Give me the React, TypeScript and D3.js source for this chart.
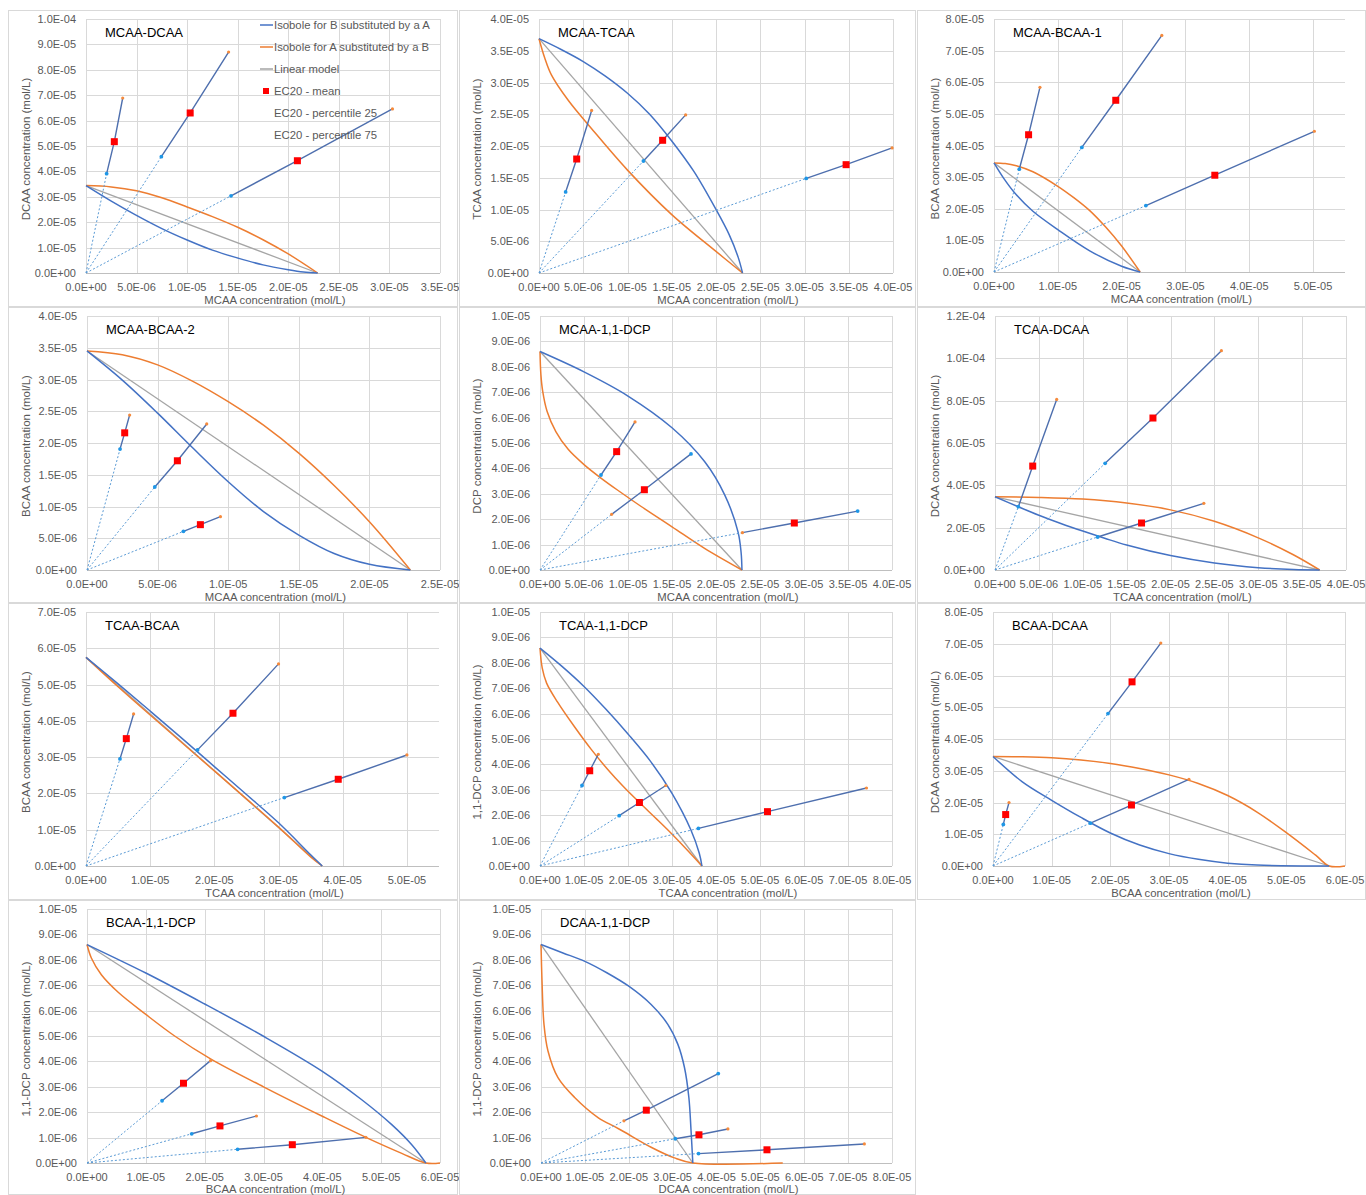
import React from "react";
import * as d3 from "d3";

type Pt = [number, number];

// ---------- panel meta ----------
const panelTitles = ["MCAA-DCAA", "MCAA-TCAA", "MCAA-BCAA-1", "MCAA-BCAA-2", "MCAA-1,1-DCP", "TCAA-DCAA", "TCAA-BCAA", "TCAA-1,1-DCP", "BCAA-DCAA", "BCAA-1,1-DCP", "DCAA-1,1-DCP"];
const xAxisTitles = ["MCAA concentration (mol/L)", "MCAA concentration (mol/L)", "MCAA concentration (mol/L)", "MCAA concentration (mol/L)", "MCAA concentration (mol/L)", "TCAA concentration (mol/L)", "TCAA concentration (mol/L)", "TCAA concentration (mol/L)", "BCAA concentration (mol/L)", "BCAA concentration (mol/L)", "DCAA concentration (mol/L)"];
const yAxisTitles = ["DCAA concentration (mol/L)", "TCAA concentration (mol/L)", "BCAA concentration (mol/L)", "BCAA concentration (mol/L)", "DCP concentration (mol/L)", "DCAA concentration (mol/L)", "BCAA concentration (mol/L)", "1,1-DCP concentration (mol/L)", "DCAA concentration (mol/L)", "1,1-DCP concentration (mol/L)", "1,1-DCP concentration (mol/L)"];
const xMaxes = [3.5e-5, 4e-5, 5.5e-5, 2.5e-5, 4e-5, 4e-5, 5.5e-5, 8e-5, 6e-5, 6e-5, 8e-5];
const xSteps = [5e-6, 5e-6, 1e-5, 5e-6, 5e-6, 5e-6, 1e-5, 1e-5, 1e-5, 1e-5, 1e-5];
const yMaxes = [1e-4, 4e-5, 8e-5, 4e-5, 1e-5, 1.2e-4, 7e-5, 1e-5, 8e-5, 1e-5, 1e-5];
const ySteps = [1e-5, 5e-6, 1e-5, 5e-6, 1e-6, 2e-5, 1e-5, 1e-6, 1e-5, 1e-6, 1e-6];

const legendLabels = ["Isobole for B substituted by a A", "Isobole for A substituted by a B", "Linear model", "EC20 - mean", "EC20 - percentile 25", "EC20 - percentile 75"];

// ---------- Panel 1: MCAA-DCAA ----------
const p1Blue: Pt[] = [[0, 3.44e-5], [2.5e-6, 2.83e-5], [4.85e-6, 2.3e-5], [7.5e-6, 1.75e-5], [1.0e-5, 1.3e-5], [1.25e-5, 0.9e-5], [1.5e-5, 0.59e-5], [1.75e-5, 0.32e-5], [2.0e-5, 0.13e-5], [2.15e-5, 0.04e-5], [2.29e-5, 0]];
const p1Orange: Pt[] = [[0, 3.44e-5], [2.5e-6, 3.39e-5], [5e-6, 3.24e-5], [7.5e-6, 2.96e-5], [1.0e-5, 2.6e-5], [1.25e-5, 2.22e-5], [1.5e-5, 1.8e-5], [1.75e-5, 1.31e-5], [2.0e-5, 0.75e-5], [2.29e-5, 0]];
const p1Linear: Pt[] = [[0, 3.44e-5], [2.29e-5, 0]];
const p1P25: Pt[] = [[2.04e-6, 3.91e-5], [7.45e-6, 4.58e-5], [1.434e-5, 3.04e-5]];
const p1Mean: Pt[] = [[2.8e-6, 5.17e-5], [1.03e-5, 6.3e-5], [2.09e-5, 4.42e-5]];
const p1P75: Pt[] = [[3.63e-6, 6.89e-5], [1.41e-5, 8.7e-5], [3.03e-5, 6.46e-5]];

// ---------- Panel 2: MCAA-TCAA ----------
const p2Blue: Pt[] = [[0, 3.69e-5], [2.5e-6, 3.52e-5], [5e-6, 3.33e-5], [7.5e-6, 3.1e-5], [1.0e-5, 2.83e-5], [1.25e-5, 2.5e-5], [1.5e-5, 2.08e-5], [1.75e-5, 1.6e-5], [2.0e-5, 1.0e-5], [2.15e-5, 0.6e-5], [2.25e-5, 0.25e-5], [2.3e-5, 0]];
const p2Orange: Pt[] = [[0, 3.69e-5], [6.4e-7, 3.39e-5], [1.4e-6, 3.12e-5], [3.3e-6, 2.72e-5], [5.9e-6, 2.28e-5], [1.0e-5, 1.62e-5], [1.5e-5, 0.92e-5], [2.0e-5, 0.34e-5], [2.3e-5, 0]];
const p2Linear: Pt[] = [[0, 3.69e-5], [2.3e-5, 0]];
const p2P25: Pt[] = [[3.01e-6, 1.276e-5], [1.18e-5, 1.764e-5], [3.02e-5, 1.49e-5]];
const p2Mean: Pt[] = [[4.26e-6, 1.795e-5], [1.397e-5, 2.09e-5], [3.47e-5, 1.706e-5]];
const p2P75: Pt[] = [[5.95e-6, 2.56e-5], [1.657e-5, 2.49e-5], [3.99e-5, 1.97e-5]];

// ---------- Panel 3: MCAA-BCAA-1 ----------
const p3Blue: Pt[] = [[0, 3.45e-5], [1.5e-6, 2.97e-5], [3.5e-6, 2.44e-5], [6.1e-6, 1.92e-5], [1.0e-5, 1.34e-5], [1.5e-5, 0.67e-5], [2.0e-5, 0.18e-5], [2.29e-5, 0]];
const p3Orange: Pt[] = [[0, 3.45e-5], [1.75e-6, 3.43e-5], [3.5e-6, 3.36e-5], [6.1e-6, 3.17e-5], [1.0e-5, 2.71e-5], [1.25e-5, 2.35e-5], [1.5e-5, 1.94e-5], [1.75e-5, 1.42e-5], [2.0e-5, 0.82e-5], [2.29e-5, 0]];
const p3Linear: Pt[] = [[0, 3.45e-5], [2.29e-5, 0]];
const p3P25: Pt[] = [[3.96e-6, 3.25e-5], [1.376e-5, 3.94e-5], [2.38e-5, 2.1e-5]];
const p3Mean: Pt[] = [[5.42e-6, 4.34e-5], [1.908e-5, 5.43e-5], [3.46e-5, 3.06e-5]];
const p3P75: Pt[] = [[7.2e-6, 5.84e-5], [2.63e-5, 7.48e-5], [5.02e-5, 4.45e-5]];

// ---------- Panel 4: MCAA-BCAA-2 ----------
const p4Blue: Pt[] = [[0, 3.45e-5], [2.5e-6, 2.99e-5], [5e-6, 2.47e-5], [7.5e-6, 1.92e-5], [1.0e-5, 1.39e-5], [1.25e-5, 0.92e-5], [1.5e-5, 0.55e-5], [1.75e-5, 0.26e-5], [2.0e-5, 0.09e-5], [2.29e-5, 0]];
const p4Orange: Pt[] = [[0, 3.45e-5], [2.5e-6, 3.39e-5], [5e-6, 3.23e-5], [7.5e-6, 2.97e-5], [1.0e-5, 2.65e-5], [1.25e-5, 2.28e-5], [1.5e-5, 1.84e-5], [1.75e-5, 1.33e-5], [2.0e-5, 0.76e-5], [2.29e-5, 0]];
const p4Linear: Pt[] = [[0, 3.45e-5], [2.29e-5, 0]];
const p4P25: Pt[] = [[2.34e-6, 1.905e-5], [4.8e-6, 1.307e-5], [6.83e-6, 6.09e-6]];
const p4Mean: Pt[] = [[2.67e-6, 2.16e-5], [6.4e-6, 1.72e-5], [8.03e-6, 7.14e-6]];
const p4P75: Pt[] = [[3.02e-6, 2.44e-5], [8.48e-6, 2.3e-5], [9.45e-6, 8.4e-6]];

// ---------- Panel 5: MCAA-1,1-DCP ----------
const p5Blue: Pt[] = [[0, 8.6e-6], [5e-6, 7.8e-6], [1.0e-5, 6.85e-6], [1.5e-5, 5.6e-6], [1.87e-5, 4.27e-6], [2.1e-5, 2.95e-6], [2.25e-5, 1.5e-6], [2.285e-5, 0.7e-6], [2.295e-5, 0]];
const p5Orange: Pt[] = [[0, 8.6e-6], [1e-7, 7.7e-6], [3e-7, 7.05e-6], [8e-7, 6.25e-6], [1.8e-6, 5.45e-6], [3.2e-6, 4.75e-6], [5e-6, 4.15e-6], [7e-6, 3.6e-6], [9e-6, 3.1e-6], [1.15e-5, 2.5e-6], [1.5e-5, 1.7e-6], [1.87e-5, 0.85e-6], [2.295e-5, 0]];
const p5Linear: Pt[] = [[0, 8.6e-6], [2.295e-5, 0]];
const p5P25: Pt[] = [[6.93e-6, 3.74e-6], [1.716e-5, 4.57e-6], [3.61e-5, 2.32e-6]];
const p5Mean: Pt[] = [[8.71e-6, 4.66e-6], [1.186e-5, 3.16e-6], [2.89e-5, 1.85e-6]];
const p5P75: Pt[] = [[1.08e-5, 5.83e-6], [8.14e-6, 2.19e-6], [2.3e-5, 1.47e-6]];

// ---------- Panel 6: TCAA-DCAA ----------
const p6Blue: Pt[] = [[0, 3.46e-5], [2.66e-6, 2.99e-5], [5e-6, 2.59e-5], [7.5e-6, 2.2e-5], [1.0e-5, 1.84e-5], [1.25e-5, 1.5e-5], [1.5e-5, 1.18e-5], [2.0e-5, 0.68e-5], [2.5e-5, 0.33e-5], [3.0e-5, 0.11e-5], [3.4e-5, 0.02e-5], [3.7e-5, 0]];
const p6Orange: Pt[] = [[0, 3.46e-5], [5e-6, 3.43e-5], [1.0e-5, 3.35e-5], [1.5e-5, 3.16e-5], [2.0e-5, 2.84e-5], [2.5e-5, 2.3e-5], [3.0e-5, 1.52e-5], [3.4e-5, 0.72e-5], [3.7e-5, 0]];
const p6Linear: Pt[] = [[0, 3.46e-5], [3.7e-5, 0]];
const p6P25: Pt[] = [[2.66e-6, 2.99e-5], [1.255e-5, 5.04e-5], [1.17e-5, 1.56e-5]];
const p6Mean: Pt[] = [[4.3e-6, 4.91e-5], [1.8e-5, 7.18e-5], [1.67e-5, 2.22e-5]];
const p6P75: Pt[] = [[7.03e-6, 8.06e-5], [2.58e-5, 1.036e-4], [2.38e-5, 3.15e-5]];

// ---------- Panel 7: TCAA-BCAA ----------
const p7Blue: Pt[] = [[0, 5.75e-5], [5e-6, 5.02e-5], [1.0e-5, 4.27e-5], [1.5e-5, 3.51e-5], [2.0e-5, 2.74e-5], [2.5e-5, 1.97e-5], [3.0e-5, 1.19e-5], [3.5e-5, 0.31e-5], [3.68e-5, 0]];
const p7Orange: Pt[] = [[0, 5.75e-5], [5e-6, 4.94e-5], [1.0e-5, 4.16e-5], [1.5e-5, 3.39e-5], [2.0e-5, 2.62e-5], [2.5e-5, 1.85e-5], [3.0e-5, 1.07e-5], [3.5e-5, 0.25e-5], [3.68e-5, 0]];
const p7Linear: Pt[] = [[0, 5.75e-5], [3.68e-5, 0]];
const p7P25: Pt[] = [[5.29e-6, 2.95e-5], [1.738e-5, 3.2e-5], [3.09e-5, 1.886e-5]];
const p7Mean: Pt[] = [[6.28e-6, 3.51e-5], [2.29e-5, 4.21e-5], [3.93e-5, 2.39e-5]];
const p7P75: Pt[] = [[7.42e-6, 4.19e-5], [3.0e-5, 5.57e-5], [5.0e-5, 3.06e-5]];

// ---------- Panel 8: TCAA-1,1-DCP ----------
const p8Blue: Pt[] = [[0, 8.58e-6], [5e-6, 7.86e-6], [1.0e-5, 7.07e-6], [1.5e-5, 6.17e-6], [2.0e-5, 5.2e-6], [2.5e-5, 4.15e-6], [3.0e-5, 2.86e-6], [3.43e-5, 1.42e-6], [3.62e-5, 0.5e-6], [3.68e-5, 0]];
const p8Orange: Pt[] = [[0, 8.58e-6], [5e-7, 7.8e-6], [1.5e-6, 7.2e-6], [4e-6, 6.45e-6], [7.8e-6, 5.49e-6], [1.16e-5, 4.6e-6], [1.54e-5, 3.8e-6], [1.9e-5, 3.12e-6], [2.26e-5, 2.5e-6], [2.62e-5, 1.9e-6], [2.98e-5, 1.29e-6], [3.34e-5, 0.64e-6], [3.68e-5, 0]];
const p8Linear: Pt[] = [[0, 8.58e-6], [3.68e-5, 0]];
const p8P25: Pt[] = [[9.55e-6, 3.17e-6], [1.8e-5, 1.98e-6], [3.6e-5, 1.48e-6]];
const p8Mean: Pt[] = [[1.13e-5, 3.75e-6], [2.26e-5, 2.5e-6], [5.17e-5, 2.14e-6]];
const p8P75: Pt[] = [[1.326e-5, 4.4e-6], [2.86e-5, 3.17e-6], [7.42e-5, 3.07e-6]];

// ---------- Panel 9: BCAA-DCAA ----------
const p9Blue: Pt[] = [[0, 3.45e-5], [5e-6, 2.65e-5], [1.0e-5, 2.07e-5], [1.5e-5, 1.53e-5], [2.0e-5, 1.04e-5], [2.5e-5, 0.66e-5], [3.0e-5, 0.39e-5], [3.5e-5, 0.21e-5], [4.0e-5, 0.09e-5], [4.5e-5, 0.03e-5], [5.73e-5, 0]];
const p9Orange: Pt[] = [[0, 3.45e-5], [5e-6, 3.44e-5], [1.0e-5, 3.41e-5], [1.5e-5, 3.34e-5], [2.0e-5, 3.23e-5], [2.5e-5, 3.07e-5], [3.0e-5, 2.87e-5], [3.5e-5, 2.6e-5], [4.0e-5, 2.22e-5], [4.5e-5, 1.7e-5], [5.0e-5, 1.05e-5], [5.5e-5, 0.34e-5], [5.73e-5, 0], [6.0e-5, 0]];
const p9Linear: Pt[] = [[0, 3.45e-5], [5.73e-5, 0]];
const p9P25: Pt[] = [[1.76e-6, 1.31e-5], [1.96e-5, 4.8e-5], [1.66e-5, 1.35e-5]];
const p9Mean: Pt[] = [[2.16e-6, 1.62e-5], [2.37e-5, 5.8e-5], [2.36e-5, 1.92e-5]];
const p9P75: Pt[] = [[2.73e-6, 2.0e-5], [2.86e-5, 7.02e-5], [3.34e-5, 2.73e-5]];

// ---------- Panel 10: BCAA-1,1-DCP ----------
const p10Blue: Pt[] = [[0, 8.6e-6], [1.0e-5, 7.48e-6], [2.0e-5, 6.26e-6], [3.0e-5, 4.99e-6], [4.0e-5, 3.61e-6], [4.67e-5, 2.49e-6], [5.18e-5, 1.51e-6], [5.52e-5, 0.72e-6], [5.76e-5, 0]];
const p10Orange: Pt[] = [[0, 8.6e-6], [7.4e-7, 8.07e-6], [2.44e-6, 7.41e-6], [5.3e-6, 6.72e-6], [1.0e-5, 5.85e-6], [1.49e-5, 5.0e-6], [2.1e-5, 4.1e-6], [3.0e-5, 3.0e-6], [4.0e-5, 1.84e-6], [4.74e-5, 1.01e-6], [5.35e-5, 0.38e-6], [5.76e-5, 0], [6.0e-5, 0]];
const p10Linear: Pt[] = [[0, 8.6e-6], [5.76e-5, 0]];
const p10P25: Pt[] = [[1.276e-5, 2.45e-6], [1.78e-5, 1.15e-6], [2.56e-5, 0.54e-6]];
const p10Mean: Pt[] = [[1.64e-5, 3.14e-6], [2.26e-5, 1.46e-6], [3.49e-5, 0.72e-6]];
const p10P75: Pt[] = [[2.1e-5, 4.03e-6], [2.88e-5, 1.85e-6], [4.74e-5, 1.01e-6]];

// ---------- Panel 11: DCAA-1,1-DCP ----------
const p11Blue: Pt[] = [[0, 8.6e-6], [5e-6, 8.27e-6], [1.0e-5, 7.94e-6], [1.5e-5, 7.49e-6], [2.0e-5, 6.96e-6], [2.51e-5, 6.24e-6], [2.89e-5, 5.46e-6], [3.12e-5, 4.67e-6], [3.27e-5, 3.76e-6], [3.37e-5, 2.58e-6], [3.42e-5, 1.27e-6], [3.46e-5, 0]];
const p11Orange: Pt[] = [[0, 8.6e-6], [2.3e-7, 7.16e-6], [6.8e-7, 5.46e-6], [1.59e-6, 4.41e-6], [3.87e-6, 3.36e-6], [7.67e-6, 2.58e-6], [1.3e-5, 1.79e-6], [1.68e-5, 1.43e-6], [1.9e-5, 1.22e-6], [2.51e-5, 0.62e-6], [3.04e-5, 0.2e-6], [3.46e-5, 0], [5.51e-5, 0]];
const p11Linear: Pt[] = [[0, 8.6e-6], [3.46e-5, 0]];
const p11P25: Pt[] = [[4.04e-5, 3.52e-6], [3.06e-5, 0.955e-6], [3.59e-5, 0.37e-6]];
const p11Mean: Pt[] = [[2.4e-5, 2.08e-6], [3.6e-5, 1.11e-6], [5.15e-5, 0.52e-6]];
const p11P75: Pt[] = [[1.89e-5, 1.66e-6], [4.26e-5, 1.34e-6], [7.37e-5, 0.75e-6]];

const blueCurves = [p1Blue, p2Blue, p3Blue, p4Blue, p5Blue, p6Blue, p7Blue, p8Blue, p9Blue, p10Blue, p11Blue];
const orangeCurves = [p1Orange, p2Orange, p3Orange, p4Orange, p5Orange, p6Orange, p7Orange, p8Orange, p9Orange, p10Orange, p11Orange];
const linearLines = [p1Linear, p2Linear, p3Linear, p4Linear, p5Linear, p6Linear, p7Linear, p8Linear, p9Linear, p10Linear, p11Linear];
const p25Sets = [p1P25, p2P25, p3P25, p4P25, p5P25, p6P25, p7P25, p8P25, p9P25, p10P25, p11P25];
const meanSets = [p1Mean, p2Mean, p3Mean, p4Mean, p5Mean, p6Mean, p7Mean, p8Mean, p9Mean, p10Mean, p11Mean];
const p75Sets = [p1P75, p2P75, p3P75, p4P75, p5P75, p6P75, p7P75, p8P75, p9P75, p10P75, p11P75];

// ---------- layout ----------
const panelBoxes: [number, number, number, number][] = [
  [8, 10, 457, 306], [459, 10, 915, 306], [917, 10, 1365, 306],
  [8, 307, 457, 602], [459, 307, 915, 602], [917, 307, 1365, 602],
  [8, 603, 457, 899], [459, 603, 915, 899], [917, 603, 1365, 899],
  [8, 900, 457, 1194], [459, 900, 915, 1194],
];
const plotRects: [number, number, number, number][] = [
  [86, 19, 440, 273], [539, 19, 893, 273], [994, 19, 1345, 272],
  [87, 316, 440, 570], [540, 316, 892, 570], [995, 316, 1346, 570],
  [86, 612, 439, 866], [540, 612, 892, 866], [993, 612, 1345, 866],
  [87, 909, 440, 1163], [541, 909, 892, 1163],
];

const FONT = "'Liberation Sans', Arial, sans-serif";
const C_BLUE = "#4472C4";
const C_ORANGE = "#ED7D31";
const C_GRAY = "#A5A5A5";
const C_RAY = "#4E6FAE";
const C_DOT = "#5B9BD5";
const C_P25 = "#1E96E6";
const C_P75 = "#F58A3C";
const C_GRID = "#D9D9D9";
const C_TEXT = "#595959";

function fmt(v: number): string {
  if (Math.abs(v) < 1e-15) return "0.0E+00";
  const [m, e] = v.toExponential(1).split("e");
  const n = parseInt(e, 10);
  return `${m}E${n < 0 ? "-" : "+"}${String(Math.abs(n)).padStart(2, "0")}`;
}

function Panel({ idx }: { idx: number }) {
  const [L, T, R, B] = plotRects[idx];
  const [bx0, by0, bx1, by1] = panelBoxes[idx];
  const x = d3.scaleLinear().domain([0, xMaxes[idx]]).range([L, R]);
  const y = d3.scaleLinear().domain([0, yMaxes[idx]]).range([B, T]);
  const nx = Math.floor(xMaxes[idx] / xSteps[idx] + 1e-6);
  const ny = Math.floor(yMaxes[idx] / ySteps[idx] + 1e-6);
  const xTicks = d3.range(0, nx + 1).map((i) => i * xSteps[idx]);
  const yTicks = d3.range(0, ny + 1).map((i) => i * ySteps[idx]);
  const smooth = d3.line<Pt>().x((d) => x(d[0])).y((d) => Math.min(B, y(d[1]))).curve(d3.curveCatmullRom.alpha(0.5));
  const straight = d3.line<Pt>().x((d) => x(d[0])).y((d) => y(d[1]));
  const p25 = p25Sets[idx];
  const mean = meanSets[idx];
  const p75 = p75Sets[idx];
  const titleY = idx >= 9 ? B + 29.5 : B + 30.5;

  return (
    <g>
      <rect x={bx0 + 0.5} y={by0 + 0.5} width={bx1 - bx0} height={by1 - by0} fill="#fff" stroke={C_GRID} strokeWidth={1} />
      {yTicks.map((t, i) => (
        <line key={"gy" + i} x1={L} x2={R} y1={Math.round(y(t)) + 0.5} y2={Math.round(y(t)) + 0.5} stroke={C_GRID} strokeWidth={1} />
      ))}
      {xTicks.map((t, i) => (
        <line key={"gx" + i} x1={Math.round(x(t)) + 0.5} x2={Math.round(x(t)) + 0.5} y1={T} y2={B} stroke={C_GRID} strokeWidth={1} />
      ))}
      <line x1={L} x2={R} y1={Math.round(B) + 0.5} y2={Math.round(B) + 0.5} stroke="#BFBFBF" strokeWidth={1} />
      {yTicks.map((t, i) => (
        <text key={"ty" + i} x={L - 10} y={y(t) + 4} textAnchor="end" fontSize={11} fill={C_TEXT} fontFamily={FONT}>{fmt(t)}</text>
      ))}
      {xTicks.map((t, i) => (
        <text key={"tx" + i} x={x(t)} y={B + 18} textAnchor="middle" fontSize={11} fill={C_TEXT} fontFamily={FONT}>{fmt(t)}</text>
      ))}
      <text x={(L + R) / 2 + 12} y={titleY} textAnchor="middle" fontSize={11.3} fill={C_TEXT} fontFamily={FONT}>{xAxisTitles[idx]}</text>
      <text transform={`translate(${bx0 + 22},${(T + B) / 2 + 3}) rotate(-90)`} textAnchor="middle" fontSize={11.5} fill={C_TEXT} fontFamily={FONT}>{yAxisTitles[idx]}</text>
      <text x={L + 19} y={T + 18} fontSize={13} fill="#000" fontFamily={FONT}>{panelTitles[idx]}</text>

      <path d={straight(linearLines[idx]) || ""} fill="none" stroke={C_GRAY} strokeWidth={1.3} />
      <path d={smooth(orangeCurves[idx]) || ""} fill="none" stroke={C_ORANGE} strokeWidth={1.5} />
      <path d={smooth(blueCurves[idx]) || ""} fill="none" stroke={C_BLUE} strokeWidth={1.5} />

      {p25.map((a, i) => {
        const b = p75[i];
        const da = (a[0] / xMaxes[idx]) ** 2 + (a[1] / yMaxes[idx]) ** 2;
        const db = (b[0] / xMaxes[idx]) ** 2 + (b[1] / yMaxes[idx]) ** 2;
        const near = da <= db ? a : b;
        return (
          <g key={"ray" + i}>
            <path d={straight([[0, 0], near]) || ""} fill="none" stroke={C_DOT} strokeWidth={1} strokeDasharray="2,2" />
            <path d={straight([a, mean[i], b]) || ""} fill="none" stroke={C_RAY} strokeWidth={1.4} />
          </g>
        );
      })}
      {p25.map((a, i) => (
        <circle key={"a" + i} cx={x(a[0])} cy={y(a[1])} r={1.9} fill={C_P25} />
      ))}
      {p75.map((b, i) => (
        <circle key={"b" + i} cx={x(b[0])} cy={y(b[1])} r={1.6} fill={C_P75} />
      ))}
      {mean.map((m, i) => (
        <rect key={"m" + i} x={x(m[0]) - 3.5} y={y(m[1]) - 3.5} width={7} height={7} fill="#FF0000" />
      ))}
    </g>
  );
}

function Legend() {
  const lx = 260;
  const ys = [25, 47, 69, 91, 113, 135];
  const colors = [C_BLUE, C_ORANGE, C_GRAY];
  return (
    <g>
      {legendLabels.map((lab, i) => (
        <g key={i}>
          {i < 3 && <line x1={lx} x2={lx + 13} y1={ys[i]} y2={ys[i]} stroke={colors[i]} strokeWidth={1.5} />}
          {i === 3 && <rect x={lx + 3} y={ys[i] - 3} width={6} height={6} fill="#FF0000" />}
          <text x={lx + 14} y={ys[i] + 4} fontSize={11.3} fill={C_TEXT} fontFamily={FONT}>{lab}</text>
        </g>
      ))}
    </g>
  );
}

export default function App() {
  return (
    <svg width={1366} height={1195} style={{ position: "absolute", left: 0, top: 0, background: "#fff" }}>
      <rect x={0} y={0} width={1366} height={1195} fill="#fff" />
      {panelTitles.map((_, i) => (
        <Panel key={i} idx={i} />
      ))}
      <Legend />
    </svg>
  );
}
